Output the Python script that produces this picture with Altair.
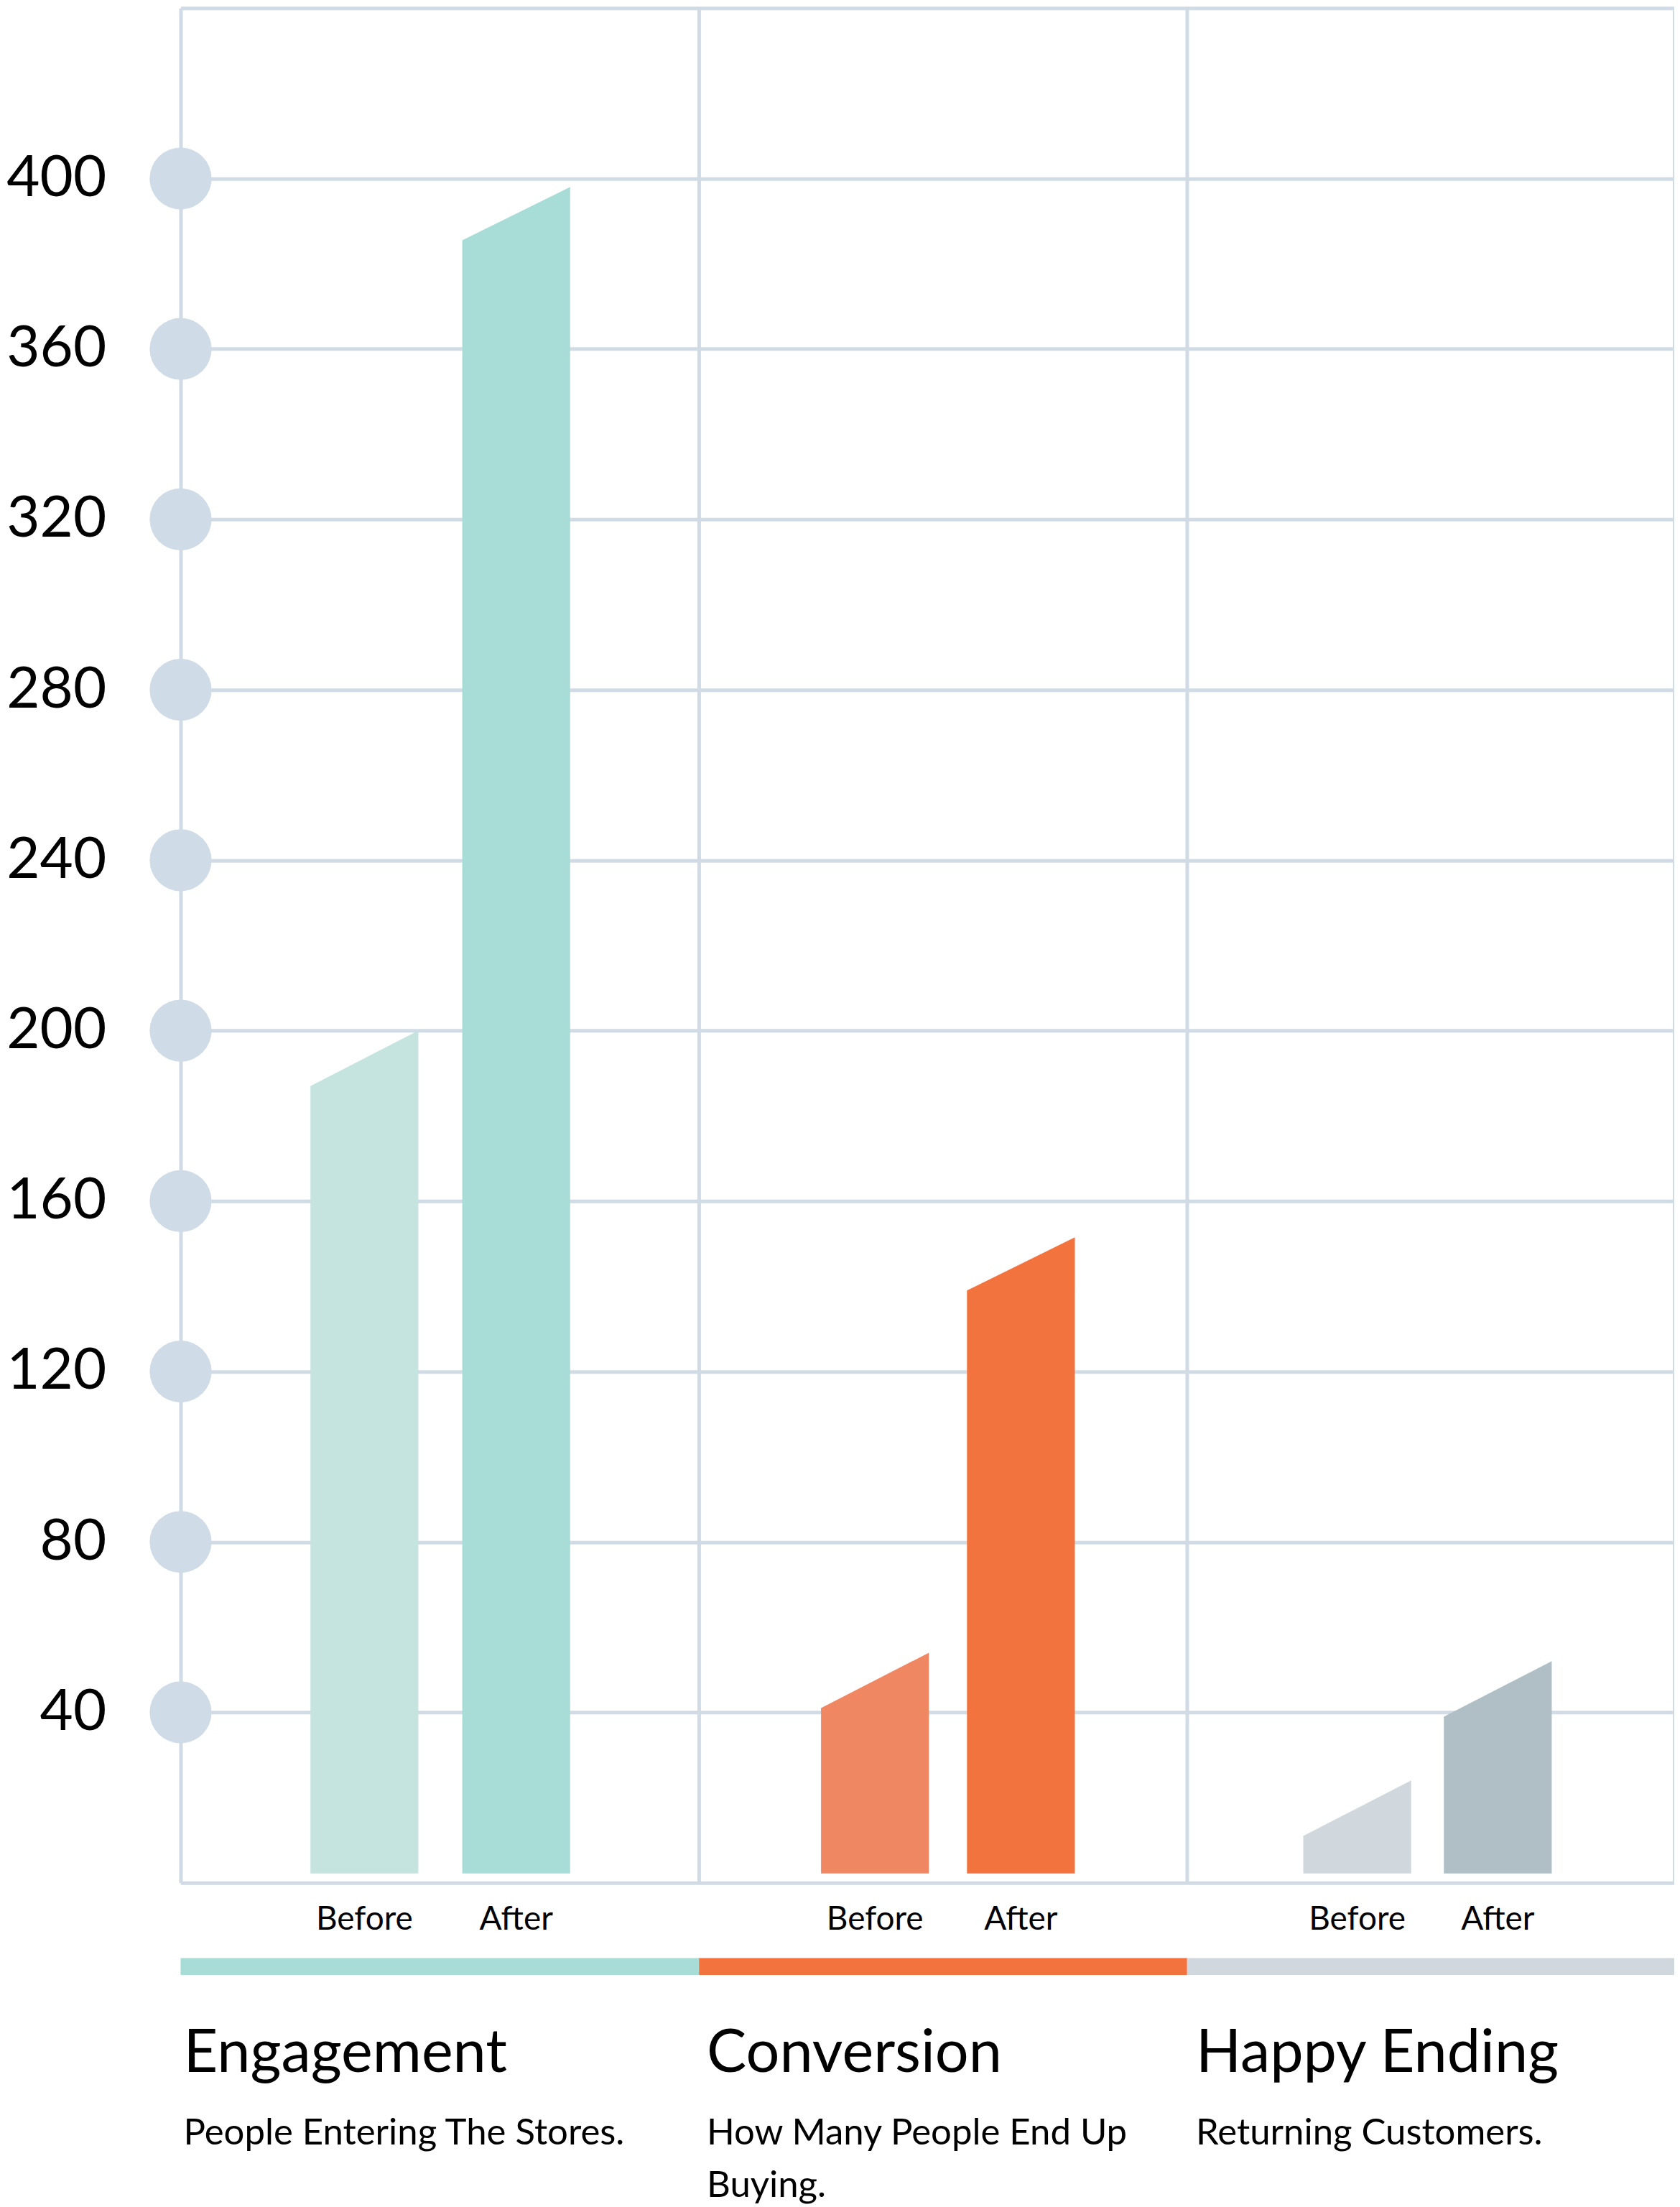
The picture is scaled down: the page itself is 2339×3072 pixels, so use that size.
import altair as alt
import pandas as pd

# ---------------- data ----------------
groups = ["Engagement", "Conversion", "Happy Ending"]
subtitles = ["People Entering The Stores.", "How Many People End Up\nBuying.", "Returning Customers."]
phases = ["Before", "After"]
# bar tops (slanted): higher right corner and lower left corner
top_right_before = [200, 54, 24]
top_right_after = [398, 151.5, 52]
top_left_before = [187, 41, 11]
top_left_after = [385.5, 139, 39]
y_ticks = [0, 40, 80, 120, 160, 200, 240, 280, 320, 360, 400, 440]
circle_ticks = [40, 80, 120, 160, 200, 240, 280, 320, 360, 400]

# ---------------- styles / layout ----------------
colors_before = ["#c5e4df", "#f08763", "#d0d8de"]
colors_after = ["#a8dcd6", "#f2733d", "#afbfc5"]
band_colors = ["#a8dcd6", "#f2733d", "#d0d8de"]
GRID = "#d0dbe6"
FONT = "Lato"
GROUP_EDGES = [0, 1.062, 2.062, 3.06]
OFF_BEFORE = [0.266, 0.250, 0.238]
OFF_AFTER = [0.577, 0.549, 0.526]
BAR_W = 0.221
BASE = 2.2
TITLE_PAD = [0.006, 0.016, 0.018]

rows = []
labels = []
for i, g in enumerate(groups):
    for ph, off, tl, tr, col in [
        ("Before", OFF_BEFORE[i], top_left_before[i], top_right_before[i], colors_before[i]),
        ("After", OFF_AFTER[i], top_left_after[i], top_right_after[i], colors_after[i]),
    ]:
        x0 = GROUP_EDGES[i] + off
        bid = f"{g}-{ph}"
        rows.append({"bar": bid, "x": x0, "y": tl, "y2": BASE, "color": col})
        rows.append({"bar": bid, "x": x0 + BAR_W, "y": tr, "y2": BASE, "color": col})
        labels.append({"x": x0 + BAR_W / 2, "label": ph})
bars = pd.DataFrame(rows)
lab_df = pd.DataFrame(labels)

band_df = pd.DataFrame({
    "x": GROUP_EDGES[:3], "x2": GROUP_EDGES[1:], "color": band_colors
})
title_df = pd.DataFrame({
    "x": [GROUP_EDGES[i] + TITLE_PAD[i] for i in range(3)],
    "title": groups,
    "sub": subtitles,
})
circ_df = pd.DataFrame({"x": [GROUP_EDGES[0]] * len(circle_ticks), "v": circle_ticks})

xscale = alt.Scale(domain=[GROUP_EDGES[0], GROUP_EDGES[-1]], nice=False, zero=False)
yscale = alt.Scale(domain=[0, 440], nice=False)

xaxis = alt.Axis(values=GROUP_EDGES, grid=True, gridColor=GRID, gridWidth=5, gridOpacity=1,
                 labels=False, ticks=False, domain=False, title=None)
yaxis = alt.Axis(values=y_ticks, grid=True, gridColor=GRID, gridWidth=5, gridOpacity=1,
                 ticks=False, domain=False, title=None,
                 labelExpr="datum.value == 0 || datum.value == 440 ? '' : datum.label",
                 labelFont=FONT, labelFontSize=80, labelColor="#000", labelPadding=104,
                 labelBaseline="middle")

bar_layer = alt.Chart(bars).mark_area(interpolate="linear", opacity=1).encode(
    x=alt.X("x:Q", scale=xscale, axis=xaxis),
    y=alt.Y("y:Q", scale=yscale, axis=yaxis),
    y2="y2:Q",
    detail="bar:N",
    color=alt.Color("color:N", scale=None),
)

circles = alt.Chart(circ_df).mark_circle(size=7466, color="#cfdbe7", opacity=1).encode(
    x=alt.X("x:Q"), y=alt.Y("v:Q")
)

ba_text = alt.Chart(lab_df).mark_text(font=FONT, fontSize=46, color="#000", align="center",
                                      baseline="alphabetic").encode(
    x="x:Q", y=alt.value(2680), text="label:N"
)

band = alt.Chart(band_df).mark_rect().encode(
    x="x:Q", x2="x2:Q", y=alt.value(2720), y2=alt.value(2743.5),
    color=alt.Color("color:N", scale=None),
)

titles = alt.Chart(title_df).mark_text(font=FONT, fontSize=83, color="#000", align="left",
                                       baseline="alphabetic").encode(
    x="x:Q", y=alt.value(2879), text="title:N"
)

subs = alt.Chart(title_df).mark_text(font=FONT, fontSize=51, color="#000", align="left",
                                     baseline="alphabetic", lineBreak="\n", lineHeight=73).encode(
    x="x:Q", y=alt.value(2980), text="sub:N"
)

chart = alt.layer(bar_layer, circles, ba_text, band, titles, subs).properties(
    width=2084, height=2615, padding={"left": 0, "top": 0, "right": 0, "bottom": 0},
    background="white",
).configure_view(stroke=None)

chart.save("out.html", embed_options={"renderer": "svg", "actions": False})
